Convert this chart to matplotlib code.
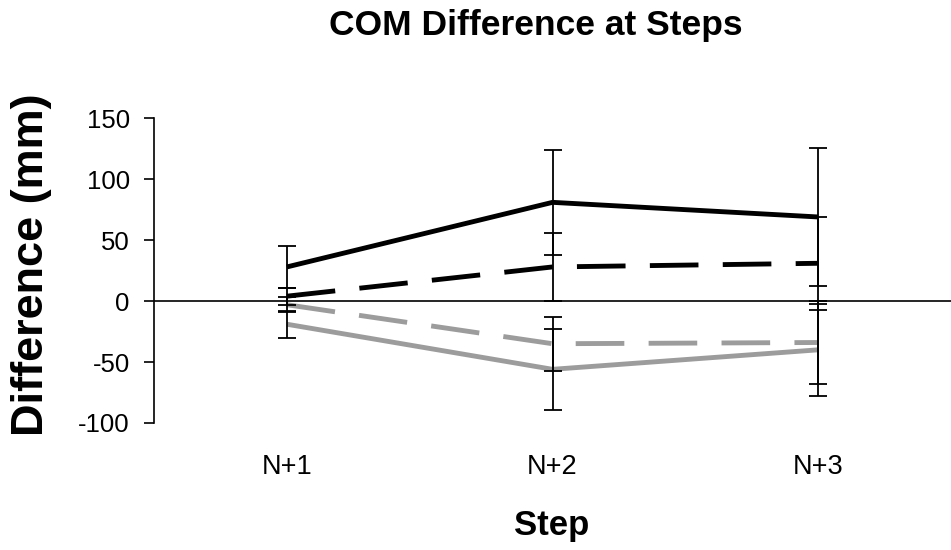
import numpy as np
import matplotlib.pyplot as plt

plt.rcParams['font.family'] = ['Liberation Sans', 'DejaVu Sans']
plt.rcParams['axes.unicode_minus'] = False

steps = ["N+1", "N+2", "N+3"]

solid_black = [28, 81, 69]
solid_black_err = [17, 43, 57]
dashed_black = [4, 28, 31]
dashed_black_err = [7, 28, 38]
dashed_grey = [-3, -35, -34]
dashed_grey_err = [6, 22, 34]
solid_grey = [-19, -56, -40]
solid_grey_err = [11, 33, 38]

yticks = [-100, -50, 0, 50, 100, 150]

GREY = "#9c9c9c"

fig = plt.figure(figsize=(9.51, 5.5), dpi=100)
ax = fig.add_axes([0.162, 0.231, 0.838, 0.554])

x = np.arange(1, len(steps) + 1)

series = [
    (solid_black, solid_black_err, "black", "-"),
    (dashed_black, dashed_black_err, "black", (0, (10, 5))),
    (dashed_grey, dashed_grey_err, GREY, (0, (10, 5))),
    (solid_grey, solid_grey_err, GREY, "-"),
]

for vals, errs, col, ls in series:
    ax.plot(x, vals, color=col, linestyle=ls, linewidth=3.5, zorder=2,
            solid_capstyle="butt", dash_capstyle="butt")
    ax.errorbar(x, vals, yerr=errs, fmt="none", ecolor="black",
                elinewidth=1.3, capsize=6.5, capthick=1.3, zorder=3)

ax.axhline(0, color="black", linewidth=1.2, zorder=1)

ax.set_xlim(0.5, 3.5)
ax.set_ylim(-100, 150)
ax.set_yticks(yticks)
ax.set_xticks(x)
ax.set_xticklabels(steps)

for s in ["top", "right", "bottom"]:
    ax.spines[s].set_visible(False)
ax.spines["left"].set_linewidth(1.2)

ax.tick_params(axis="y", direction="out", length=7.5, width=1.2,
               labelsize=18.5, pad=10)
ax.tick_params(axis="x", length=0, labelsize=19.5, pad=22)

fig.text(0.563, 1 - 25 / 550, "COM Difference at Steps", ha="center",
         va="center", fontsize=25.5, fontweight="bold")
fig.text(0.58, 1 - 525 / 550, "Step", ha="center", va="center",
         fontsize=25, fontweight="bold")
fig.text(0.033, 1 - 265 / 550, "Difference (mm)", ha="center", va="center",
         rotation=90, fontsize=32.5, fontweight="bold")

fig.savefig("out.png", dpi=100)
